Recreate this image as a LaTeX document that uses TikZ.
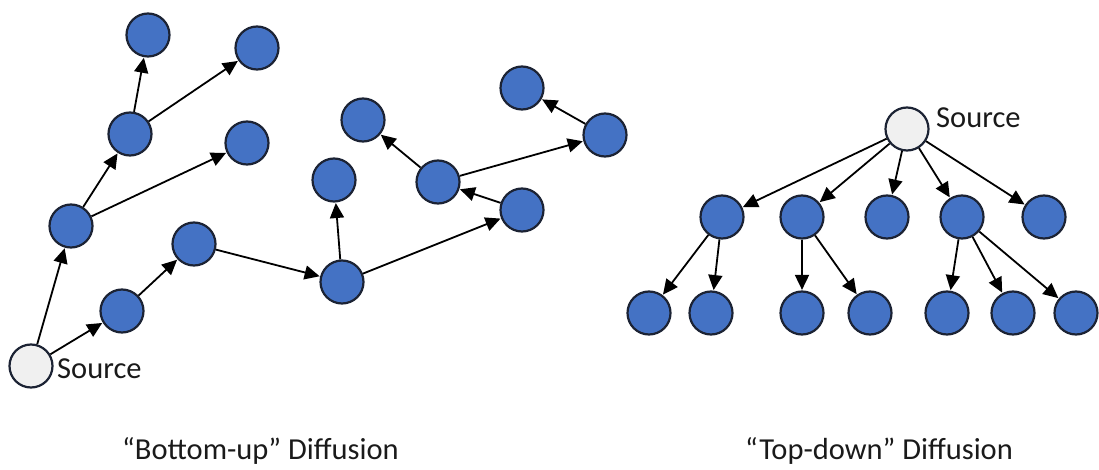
\documentclass[tikz,border=0pt]{standalone}
\usepackage{fontspec}
\setmainfont{Carlito}
\usetikzlibrary{arrows.meta}
\definecolor{nodeblue}{HTML}{4472C4}
\definecolor{nodeedge}{HTML}{1C2334}
\definecolor{srcfill}{HTML}{F0F0F0}
\definecolor{textgray}{HTML}{1A1A1A}
\tikzset{
  dot/.style={circle, draw=nodeedge, line width=2.2pt, fill=nodeblue, minimum size=43pt, inner sep=0pt},
  src/.style={dot, fill=srcfill},
  link/.style={line width=1.8pt, -{Triangle[length=15pt,width=14pt]}, shorten >=0.5pt},
  lbl/.style={font=\fontsize{30.5}{34}\selectfont, text=textgray, inner sep=0pt},
}
\begin{document}
\begin{tikzpicture}[x=1pt,y=-1pt]
\useasboundingbox (0,0) rectangle (1099,470);

% bottom-up spread
\node[src] (s)  at (31,366) {};
\node[dot] (a1) at (71,226) {};
\node[dot] (a2) at (130,134) {};
\node[dot] (a3) at (148,35) {};
\node[dot] (a4) at (257,48) {};
\node[dot] (a5) at (247,143) {};
\node[dot] (b1) at (122,311) {};
\node[dot] (b2) at (194,244) {};
\node[dot] (c)  at (342,282) {};
\node[dot] (c1) at (334,180) {};
\node[dot] (d)  at (438,182) {};
\node[dot] (d1) at (363,120) {};
\node[dot] (e)  at (522,210) {};
\node[dot] (f)  at (605,135) {};
\node[dot] (f1) at (522,88) {};
\node[lbl, anchor=base west] (sl) at (57,378) {Source};

\draw[link] (s) -- (a1);
\draw[link] (s) -- (b1);
\draw[link] (a1) -- (a2);
\draw[link] (a1) -- (a5);
\draw[link] (a2) -- (a3);
\draw[link] (a2) -- (a4);
\draw[link] (b1) -- (b2);
\draw[link] (b2) -- (c);
\draw[link] (c) -- (c1);
\draw[link] (c) -- (e);
\draw[link] (e) -- (d);
\draw[link] (d) -- (d1);
\draw[link] (d) -- (f);
\draw[link] (f) -- (f1);

% top-down spread
\node[src] (t)  at (907,129) {};
\node[dot] (r1) at (722,217) {};
\node[dot] (r2) at (802,217) {};
\node[dot] (r3) at (887,217) {};
\node[dot] (r4) at (962,217) {};
\node[dot] (r5) at (1044,217) {};
\node[dot] (l1) at (649,313) {};
\node[dot] (l2) at (711,313) {};
\node[dot] (l3) at (802,313) {};
\node[dot] (l4) at (870,313) {};
\node[dot] (l5) at (947,313) {};
\node[dot] (l6) at (1013,313) {};
\node[dot] (l7) at (1076,313) {};
\node[lbl, anchor=base west] (tl) at (936,128) {Source};

\foreach \k in {r1,r2,r3,r4,r5} \draw[link] (t) -- (\k);
\draw[link] (r1) -- (l1);
\draw[link] (r1) -- (l2);
\draw[link] (r2) -- (l3);
\draw[link] (r2) -- (l4);
\draw[link] (r4) -- (l5);
\draw[link] (r4) -- (l6);
\draw[link] (r4) -- (l7);

% captions
\node[lbl, anchor=base west] (cap1) at (122,459) {“Bottom-up” Diffusion};
\node[lbl, anchor=base west] (cap2) at (745,459) {“Top-down” Diffusion};
\end{tikzpicture}
\end{document}
